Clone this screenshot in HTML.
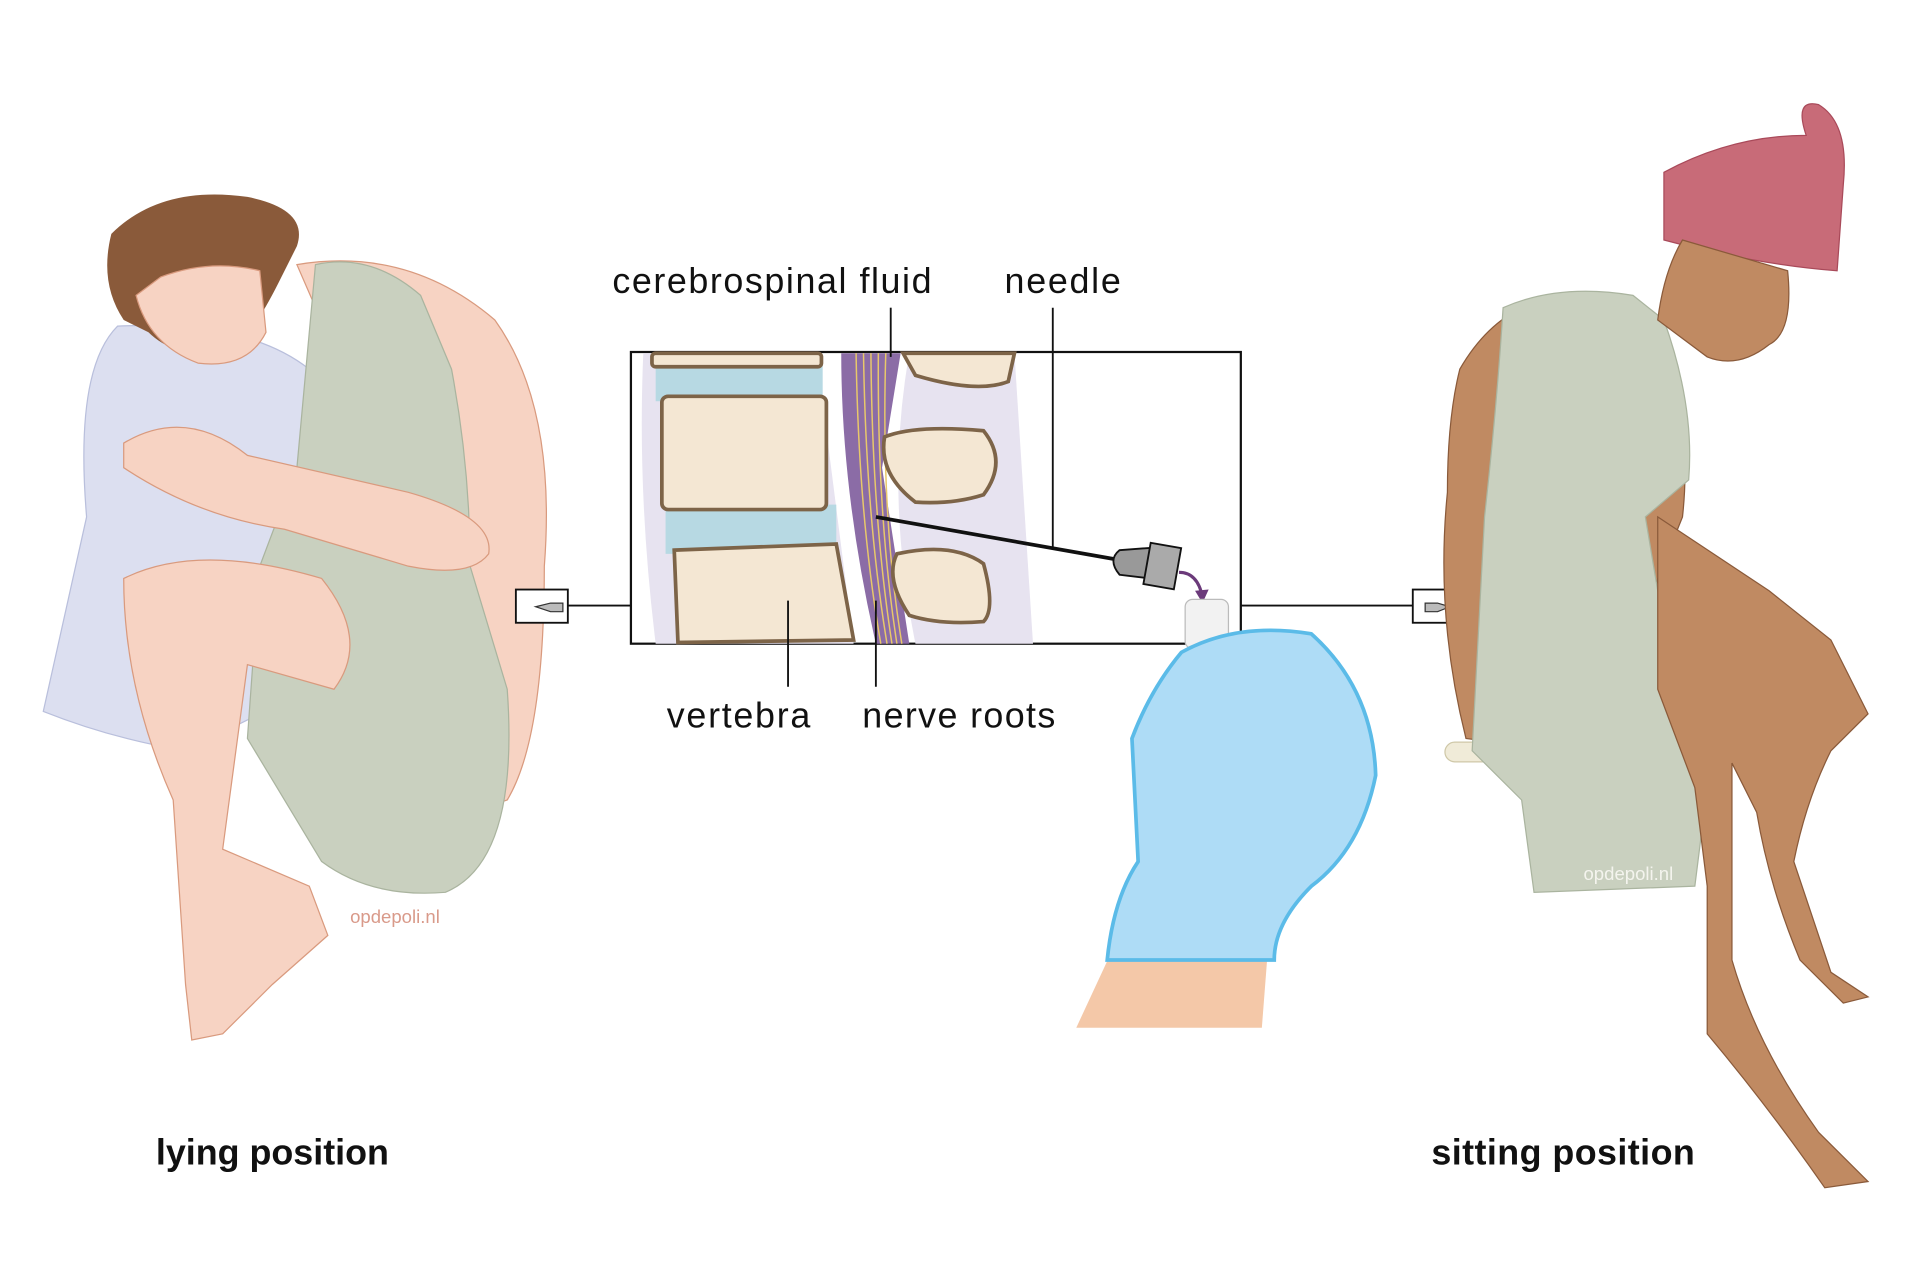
<!DOCTYPE html>
<html><head><meta charset="utf-8"><style>
html,body{margin:0;padding:0;background:#fff;}
svg{display:block;}
text{font-family:"Liberation Sans",sans-serif;}
</style></head><body>
<svg width="1920" height="1280" viewBox="0 0 1552 1040" preserveAspectRatio="none" xmlns="http://www.w3.org/2000/svg">
<rect width="1552" height="1040" fill="#fff"/>
<!-- LEFT: lying figure -->
<path d="M95,265 Q60,300 70,420 L35,578 Q90,600 150,610 L250,560 L250,300 Q200,260 95,265Z" fill="#dcdff0" stroke="#b9bfdc"/>
<path d="M240,215 Q330,200 400,260 Q450,330 440,460 Q440,600 410,650 L380,660 L390,500 Q360,420 320,400 Z" fill="#f7d3c3" stroke="#d99a7e"/>
<path d="M255,215 Q300,205 340,240 L365,300 Q380,380 380,460 L410,560 Q420,700 360,725 Q300,730 260,700 L200,600 L210,460 L240,380 Z" fill="#c9d0bf" stroke="#aab49f"/>
<path d="M100,470 Q160,440 260,470 Q300,520 270,560 L200,540 L180,690 L250,720 L265,760 L220,800 L180,840 L155,845 L150,800 L140,650 Q100,560 100,470Z" fill="#f7d3c3" stroke="#d99a7e"/>
<path d="M100,360 Q150,330 200,370 L330,400 Q400,420 395,450 Q380,470 330,460 L230,430 Q160,420 100,380Z" fill="#f7d3c3" stroke="#d99a7e"/>
<path d="M90,190 Q130,150 200,160 Q250,170 240,200 L225,230 Q200,280 180,290 Q140,290 120,270 L100,260 Q80,230 90,190Z" fill="#8a5a3a"/>
<path d="M110,240 Q120,280 160,295 Q200,300 215,270 L210,220 Q170,210 130,225Z" fill="#f7d3c3" stroke="#d99a7e"/>
<text x="283" y="750" font-size="15" fill="#d99a8a">opdepoli.nl</text>
<text x="126" y="946" font-size="29" font-weight="bold" fill="#111">lying position</text>
<!-- small box left -->
<rect x="417" y="479" width="42" height="27" fill="#fff" stroke="#111" stroke-width="1.5"/>
<path d="M433,493 L445,490 L455,490 L455,497 L445,497Z" fill="#bbb" stroke="#333"/>
<line x1="459" y1="492" x2="510" y2="492" stroke="#111" stroke-width="1.5"/>
<!-- CENTER box -->
<rect x="510" y="286" width="493" height="237" fill="#fff" stroke="#111" stroke-width="1.8"/>
<path d="M520,287 L660,287 L690,523 L530,523 Q515,400 520,287Z" fill="#e7e3f0"/>
<rect x="530" y="296" width="135" height="30" fill="#b7d9e3"/>
<rect x="538" y="410" width="138" height="40" fill="#b7d9e3"/>
<rect x="527" y="287" width="137" height="11" rx="3" fill="#f4e7d3" stroke="#7d6448" stroke-width="3"/>
<rect x="535" y="322" width="133" height="92" rx="5" fill="#f4e7d3" stroke="#7d6448" stroke-width="3"/>
<path d="M545,447 L676,442 L690,520 L548,522Z" fill="#f4e7d3" stroke="#7d6448" stroke-width="3"/>
<path d="M680,287 L728,287 L713,380 L735,523 L708,523 Q680,400 680,287Z" fill="#8b6ca6"/>
<g stroke="#e8c86a" stroke-width="1.2" fill="none">
<path d="M692,287 Q694,420 712,523"/><path d="M698,287 Q700,420 717,523"/><path d="M704,287 Q705,420 721,523"/><path d="M710,287 Q709,420 725,523"/><path d="M716,287 Q712,420 729,523"/>
</g>
<path d="M735,287 L820,287 L835,523 L740,523 Q715,400 735,287Z" fill="#e7e3f0"/>
<path d="M730,287 L820,287 L815,310 Q790,320 740,305Z" fill="#f4e7d3" stroke="#7d6448" stroke-width="3"/>
<path d="M715,355 Q740,345 795,350 Q815,375 795,402 Q770,410 740,408 Q710,385 715,355Z" fill="#f4e7d3" stroke="#7d6448" stroke-width="3"/>
<path d="M725,450 Q770,440 795,458 Q805,495 795,505 Q760,508 735,500 Q715,470 725,450Z" fill="#f4e7d3" stroke="#7d6448" stroke-width="3"/>
<line x1="708" y1="420" x2="905" y2="455" stroke="#111" stroke-width="3"/>
<path d="M905,447 Q895,455 905,467 L930,470 L932,445Z" fill="#999" stroke="#111" stroke-width="1.5"/>
<rect x="927" y="443" width="25" height="34" fill="#aaa" stroke="#111" stroke-width="1.5" transform="rotate(10 940 460)"/>
<path d="M953,465 Q968,465 972,485" fill="none" stroke="#6b3a7a" stroke-width="2.5"/>
<path d="M966,480 L972,490 L977,479Z" fill="#6b3a7a"/>
<rect x="958" y="487" width="35" height="40" rx="6" fill="#f2f2f2" stroke="#bbb"/>
<!-- labels -->
<text x="495" y="238" font-size="29" fill="#111" textLength="258">cerebrospinal fluid</text>
<text x="812" y="238" font-size="29" fill="#111" textLength="94">needle</text>
<line x1="720" y1="250" x2="720" y2="290" stroke="#111" stroke-width="1.5"/>
<line x1="851" y1="250" x2="851" y2="445" stroke="#111" stroke-width="1.5"/>
<line x1="637" y1="488" x2="637" y2="558" stroke="#111" stroke-width="1.5"/>
<line x1="708" y1="488" x2="708" y2="558" stroke="#111" stroke-width="1.5"/>
<text x="539" y="591" font-size="29" fill="#111" textLength="116">vertebra</text>
<text x="697" y="591" font-size="29" fill="#111" textLength="156">nerve roots</text>
<!-- glove hand -->
<path d="M870,835 L900,770 L1025,770 L1020,835Z" fill="#f4c8a8"/>
<path d="M955,530 Q1000,505 1060,515 Q1110,560 1112,630 Q1100,690 1060,720 Q1030,750 1030,780 L895,780 Q900,730 920,700 L915,600 Q930,560 955,530Z" fill="#aedcf6" stroke="#5bbbe8" stroke-width="3"/>
<line x1="1003" y1="492" x2="1142" y2="492" stroke="#111" stroke-width="1.5"/>
<rect x="1142" y="479" width="42" height="27" fill="#fff" stroke="#111" stroke-width="1.5"/>
<path d="M1152,490 L1162,490 L1172,493 L1162,497 L1152,497Z" fill="#bbb" stroke="#333"/>
<!-- RIGHT: sitting figure -->
<path d="M1180,300 Q1220,230 1300,240 L1330,270 Q1370,330 1360,420 L1340,470 L1320,570 L1260,610 L1185,600 Q1160,500 1170,400 Q1170,340 1180,300Z" fill="#c08a62" stroke="#8a5a3a"/>
<rect x="1168" y="603" width="220" height="16" rx="8" fill="#f0ebd8" stroke="#cfc8a8"/>
<path d="M1215,250 Q1260,230 1320,240 L1345,260 Q1370,330 1365,390 L1330,420 L1340,480 L1380,640 L1370,720 L1240,725 L1230,650 L1190,610 L1200,420 Q1210,330 1215,250Z" fill="#c9d0bf" stroke="#aab49f"/>
<path d="M1340,420 L1430,480 L1480,520 L1510,580 L1480,610 Q1460,650 1450,700 L1480,790 L1510,810 L1490,815 L1455,780 Q1430,720 1420,660 L1400,620 L1400,780 Q1420,850 1470,920 L1510,960 L1475,965 Q1430,900 1380,840 L1380,720 L1370,640 L1340,560 Z" fill="#c08a62" stroke="#8a5a3a"/>
<path d="M1345,140 Q1400,110 1460,110 Q1450,80 1470,85 Q1495,100 1490,150 L1485,220 Q1420,215 1345,195Z" fill="#c86b78" stroke="#a94a5a"/>
<path d="M1360,195 L1445,220 Q1450,270 1430,280 Q1405,300 1380,290 L1340,260 Q1345,220 1360,195Z" fill="#c08a62" stroke="#8a5a3a"/>
<text x="1280" y="715" font-size="15" fill="#f4f4ee">opdepoli.nl</text>
<text x="1157" y="946" font-size="29" font-weight="bold" fill="#111" textLength="213">sitting position</text>
</svg>
</body></html>
